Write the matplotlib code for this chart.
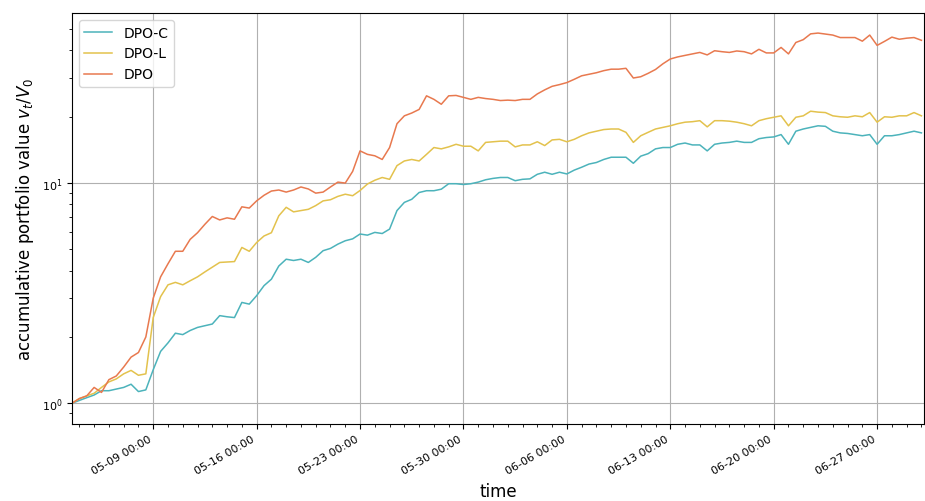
import matplotlib
matplotlib.use("Agg")
import matplotlib.pyplot as plt
import matplotlib.dates as mdates
import matplotlib.ticker as mticker
import pandas as pd

# Sampling times of the back-test (12-hour snapshots)
start_time = "2018-05-03 12:00"
end_time = "2018-06-30 00:00"
axis_end = "2018-06-30 04:00"

series_names = ["DPO-C", "DPO-L", "DPO"]

dpo_c = [
    1.00, 1.03, 1.06, 1.09, 1.14, 1.14, 1.16, 1.18, 1.22, 1.13,
    1.15, 1.42, 1.72, 1.88, 2.08, 2.05, 2.14, 2.21, 2.25, 2.29,
    2.50, 2.47, 2.45, 2.87, 2.82, 3.08, 3.42, 3.66, 4.20, 4.51,
    4.45, 4.51, 4.36, 4.60, 4.93, 5.05, 5.28, 5.47, 5.58, 5.87,
    5.80, 5.97, 5.90, 6.18, 7.50, 8.17, 8.44, 9.06, 9.23, 9.23,
    9.38, 9.93, 9.93, 9.85, 9.93, 10.1, 10.35, 10.5, 10.6, 10.6,
    10.25, 10.4, 10.45, 10.96, 11.2, 10.96, 11.2, 11.0, 11.45, 11.8,
    12.2, 12.4, 12.8, 13.1, 13.1, 13.1, 12.3, 13.25, 13.6, 14.3,
    14.5, 14.5, 15.0, 15.2, 14.9, 14.9, 14.0, 15.0, 15.2, 15.3,
    15.5, 15.3, 15.3, 15.9, 16.1, 16.2, 16.6, 15.0, 17.2, 17.6,
    17.9, 18.2, 18.1, 17.2, 16.9, 16.8, 16.6, 16.4, 16.6, 15.0,
    16.4, 16.4, 16.6, 16.9, 17.2, 16.9,
]

dpo_l = [
    1.00, 1.05, 1.08, 1.11, 1.18, 1.25, 1.29, 1.36, 1.41, 1.34,
    1.36, 2.45, 3.05, 3.45, 3.54, 3.45, 3.60, 3.75, 3.95, 4.15,
    4.36, 4.38, 4.40, 5.10, 4.90, 5.37, 5.75, 5.95, 7.10, 7.76,
    7.40, 7.50, 7.60, 7.90, 8.30, 8.40, 8.70, 8.90, 8.76, 9.25,
    9.90, 10.3, 10.6, 10.4, 12.0, 12.6, 12.8, 12.6, 13.5, 14.5,
    14.3, 14.6, 15.0, 14.7, 14.7, 14.0, 15.3, 15.4, 15.5, 15.5,
    14.6, 14.9, 14.9, 15.4, 14.8, 15.7, 15.8, 15.4, 15.8, 16.4,
    16.9, 17.2, 17.5, 17.6, 17.6, 17.0, 15.3, 16.4, 17.0, 17.6,
    17.9, 18.2, 18.6, 18.9, 19.0, 19.2, 18.0, 19.2, 19.2, 19.1,
    18.9, 18.6, 18.2, 19.2, 19.6, 19.9, 20.2, 18.2, 19.9, 20.2,
    21.2, 21.0, 20.9, 20.2, 20.0, 19.9, 20.2, 20.0, 20.9, 18.9,
    20.0, 19.9, 20.2, 20.2, 20.9, 20.2,
]

dpo = [
    1.00, 1.05, 1.08, 1.18, 1.12, 1.28, 1.33, 1.46, 1.62, 1.70,
    2.00, 3.00, 3.75, 4.30, 4.90, 4.90, 5.55, 5.95, 6.50, 7.05,
    6.80, 6.95, 6.85, 7.80, 7.70, 8.30, 8.80, 9.20, 9.30, 9.10,
    9.30, 9.60, 9.40, 9.00, 9.10, 9.60, 10.1, 10.0, 11.3, 14.0,
    13.5, 13.3, 12.8, 14.5, 18.6, 20.2, 20.8, 21.6, 24.9, 24.0,
    22.8, 24.9, 25.0, 24.5, 24.0, 24.5, 24.2, 24.0, 23.7, 23.8,
    23.7, 24.0, 24.0, 25.4, 26.5, 27.5, 28.0, 28.6, 29.6, 30.7,
    31.2, 31.7, 32.4, 32.9, 32.9, 33.2, 30.0, 30.4, 31.5, 32.8,
    34.8, 36.6, 37.4, 38.0, 38.6, 39.2, 38.2, 39.9, 39.5, 39.2,
    39.8, 39.5, 38.6, 40.5, 39.0, 39.0, 41.3, 38.6, 43.5, 44.8,
    47.6, 48.0, 47.5, 47.0, 45.8, 45.8, 45.8, 44.1, 47.0, 42.2,
    44.0, 46.0, 45.0, 45.5, 45.8, 44.5,
]

colors = ["#4cb3bb", "#e3c24d", "#e8794f"]

times = pd.date_range(start_time, end_time, freq="12h")
frame = pd.DataFrame({"DPO-C": dpo_c, "DPO-L": dpo_l, "DPO": dpo}, index=times)

fig = plt.figure(figsize=(9.25, 5.02), dpi=100)
ax = fig.add_axes([0.0778, 0.1534, 0.921, 0.8187])

for name, color in zip(series_names, colors):
    ax.plot(frame.index, frame[name], color=color, linewidth=1.1, label=name)

ax.set_yscale("log")
ax.set_ylim(0.805, 59.2)
ax.set_xlim(pd.Timestamp(start_time), pd.Timestamp(axis_end))

ax.xaxis.set_major_locator(mdates.WeekdayLocator(byweekday=mdates.WE))
ax.xaxis.set_minor_locator(mdates.DayLocator())
ax.xaxis.set_major_formatter(mdates.DateFormatter("%m-%d %H:%M"))
ax.yaxis.set_minor_formatter(mticker.NullFormatter())

for lbl in ax.get_xticklabels():
    lbl.set_rotation(30)
    lbl.set_horizontalalignment("right")

ax.tick_params(axis="both", which="major", labelsize=8)
ax.grid(True, which="major", color="#b0b0b0", linewidth=0.8)

ax.set_xlabel("time", fontsize=12)
ax.set_ylabel("accumulative portfolio value $v_t/V_0$", fontsize=12)
ax.legend(loc="upper left", fontsize=10)

fig.savefig("out.png", dpi=100)
